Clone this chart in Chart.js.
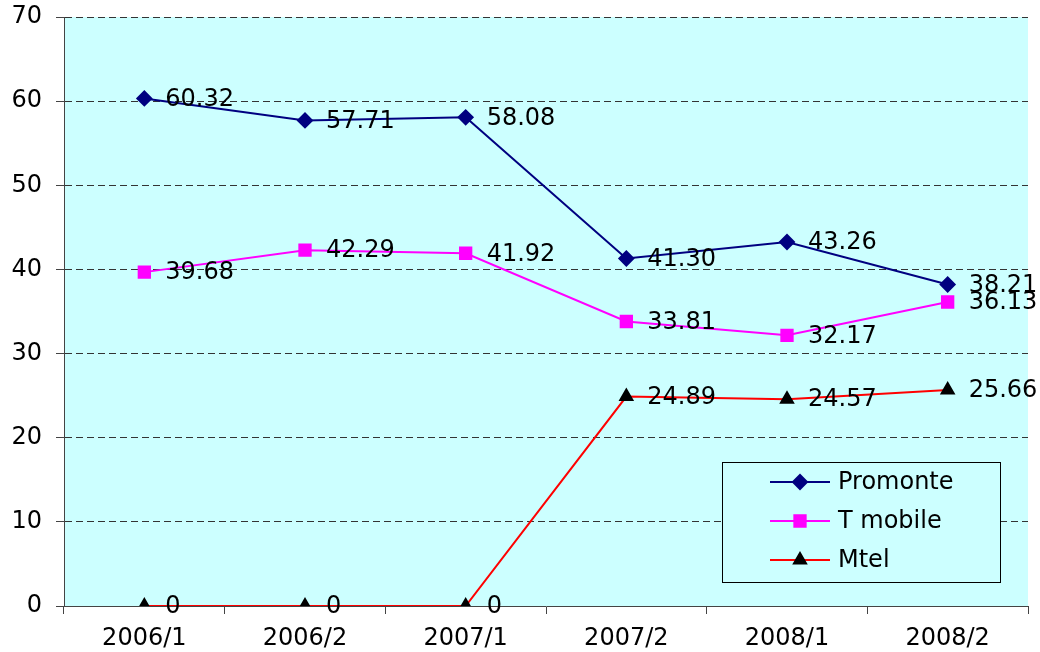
<!DOCTYPE html>
<html>
<head>
<meta charset="utf-8">
<script src="https://cdn.jsdelivr.net/npm/chart.js@4/dist/chart.umd.min.js"></script>
<style>
  html, body { margin: 0; padding: 0; background: #fff; }
  #wrap { width: 1040px; height: 652px; }
</style>
</head>
<body>
<div id="wrap"><canvas id="c" width="1040" height="652"></canvas></div>
<script>
const periods  = ["2006/1", "2006/2", "2007/1", "2007/2", "2008/1", "2008/2"];
const promonte = [60.32, 57.71, 58.08, 41.30, 43.26, 38.21];
const tmobile  = [39.68, 42.29, 41.92, 33.81, 32.17, 36.13];
const mtel     = [0, 0, 0, 24.89, 24.57, 25.66];
const yTicks   = [0, 10, 20, 30, 40, 50, 60, 70];

const FONT = "'DejaVu Sans', sans-serif";

// cyan plot background
const plotBg = {
  id: "plotBg",
  beforeDraw(chart) {
    const a = chart.chartArea, ctx = chart.ctx;
    ctx.save();
    ctx.fillStyle = "#CCFFFF";
    ctx.fillRect(a.left, a.top, a.right - a.left, a.bottom - a.top);
    ctx.restore();
  }
};

// value labels to the right of each point
const valueLabels = {
  id: "valueLabels",
  afterDatasetsDraw(chart) {
    const ctx = chart.ctx;
    ctx.save();
    ctx.font = "24px " + FONT;
    ctx.fillStyle = "#000";
    ctx.textAlign = "left";
    ctx.textBaseline = "middle";
    chart.data.datasets.forEach((ds, i) => {
      chart.getDatasetMeta(i).data.forEach((pt, j) => {
        const v = ds.data[j];
        const txt = v === 0 ? "0" : v.toFixed(2);
        ctx.fillText(txt, pt.x + 21, pt.y + 1);
      });
    });
    ctx.restore();
  }
};

// boxed legend inside the plot
const boxLegend = {
  id: "boxLegend",
  afterDraw(chart) {
    const ctx = chart.ctx;
    const x = 722, y = 462, w = 278, h = 120;
    ctx.save();
    ctx.fillStyle = "#CCFFFF";
    ctx.fillRect(x, y, w, h);
    ctx.strokeStyle = "#000";
    ctx.lineWidth = 1;
    ctx.strokeRect(x + 0.5, y + 0.5, w, h);
    chart.data.datasets.forEach((ds, i) => {
      const cy = y + 20 + i * 39;
      ctx.strokeStyle = ds.borderColor;
      ctx.lineWidth = 2;
      ctx.beginPath();
      ctx.moveTo(770, cy);
      ctx.lineTo(830, cy);
      ctx.stroke();
      ctx.fillStyle = ds.pointBackgroundColor;
      ctx.strokeStyle = ds.pointBorderColor;
      Chart.helpers.drawPoint(ctx, { pointStyle: ds.pointStyle, radius: ds.pointRadius, borderWidth: 1 }, 800, cy);
      ctx.fillStyle = "#000";
      ctx.font = "24px " + FONT;
      ctx.textBaseline = "middle";
      ctx.fillText(ds.label, 838, cy + 1);
    });
    ctx.restore();
  }
};

new Chart(document.getElementById("c"), {
  type: "line",
  data: {
    labels: periods,
    datasets: [
      { label: "Promonte", data: promonte, borderColor: "#000080", borderWidth: 2,
        pointStyle: "rectRot", pointRadius: 7, pointBackgroundColor: "#000080", pointBorderColor: "#000080" },
      { label: "T mobile", data: tmobile, borderColor: "#FF00FF", borderWidth: 2,
        pointStyle: "rect", pointRadius: 8, pointBackgroundColor: "#FF00FF", pointBorderColor: "#FF00FF" },
      { label: "Mtel", data: mtel, borderColor: "#FF0000", borderWidth: 2,
        pointStyle: "triangle", pointRadius: 7, pointBackgroundColor: "#000", pointBorderColor: "#000" }
    ]
  },
  options: {
    responsive: false,
    animation: false,
    layout: { padding: { top: 17, right: 12, left: 0, bottom: 0 } },
    plugins: { legend: { display: false }, tooltip: { enabled: false } },
    elements: { line: { tension: 0 } },
    scales: {
      x: {
        offset: true,
        grid: { display: true, drawOnChartArea: false, offset: true, tickLength: 8, color: "#444" },
        border: { display: true, color: "#444", width: 1 },
        ticks: { color: "#000", font: { family: FONT, size: 24 }, padding: 10, maxRotation: 0 },
        afterFit(s) { s.height = 46; s.paddingLeft = 0; s.paddingRight = 0; }
      },
      y: {
        min: 0, max: 70,
        afterBuildTicks(s) { s.ticks = yTicks.map(v => ({ value: v })); },
        grid: { color: "#333", lineWidth: 1, tickLength: 8, tickColor: "#444", tickBorderDash: [] },
        border: { display: true, color: "#444", width: 1, dash: [7, 4] },
        ticks: { color: "#000", font: { family: FONT, size: 24 }, padding: 14 },
        afterFit(s) { s.width = 64; s.paddingTop = 0; s.paddingBottom = 0; }
      }
    }
  },
  plugins: [plotBg, valueLabels, boxLegend]
});
</script>
</body>
</html>
